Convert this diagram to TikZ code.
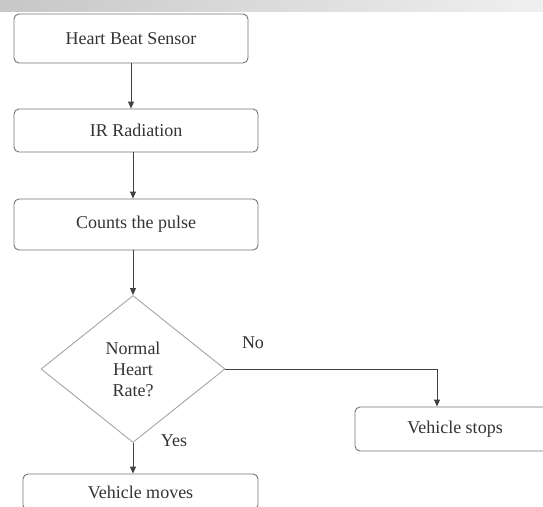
\documentclass[tikz,border=0pt]{standalone}
\usepackage{fontspec}
\setmainfont{Liberation Serif}
\usepackage{tikz}
\usetikzlibrary{arrows.meta,positioning,calc,shapes.geometric}

\begin{document}
\begin{tikzpicture}[x=1pt,y=-1pt,
 font=\fontsize{18}{21}\selectfont,text=black!80,
 box/.style={draw=black!55,line width=0.9pt,rounded corners=5pt,inner sep=0pt},
 flow/.style={draw=black!75,line width=0.9pt,-{Triangle[length=7pt,width=6pt]}}]
 \clip (0,0) rectangle (543,506);
 \fill[left color=black!22,right color=black!6] (0,0) rectangle (543,11);
 % process boxes
 \node[box,minimum width=234,minimum height=49] (sensor) at (131,38.5) {Heart Beat Sensor};
 \node[box,minimum width=244,minimum height=43] (ir) at (136,130.5) {IR Radiation};
 \node[box,minimum width=244,minimum height=51] (count) at (136,224.5) {Counts the pulse};
 \node[diamond,draw=black!35,line width=0.9pt,inner sep=0pt,minimum width=184,
  minimum height=147,align=center,font=\fontsize{18}{21}\selectfont] (rate) at (133,369)
  {Normal\\Heart\\Rate?};
 \node[box,minimum width=235,minimum height=36] (moves) at (140.5,492) {Vehicle moves};
 \node[box,minimum width=200,minimum height=44] (stops) at (455,429) {Vehicle stops};
 \coordinate (turn) at (437,369);
 % connectors
 \draw[flow] (sensor) -- (sensor |- ir.north);
 \draw[flow] (ir.south -| rate) -- (count.north -| rate);
 \draw[flow] (count.south -| rate) -- (rate.north);
 \draw[flow] (rate.south) -- (moves.north -| rate);
 \draw[flow] (rate.east) -- (turn) -- (turn |- stops.north);
 \node (no) at (253,343) {No};
 \node (yes) at (174,441) {Yes};
\end{tikzpicture}
\end{document}
